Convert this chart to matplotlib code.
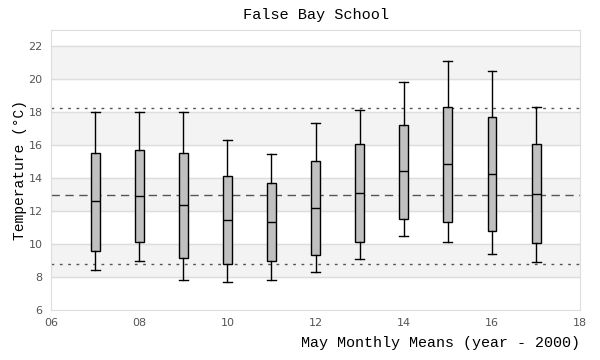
import matplotlib
matplotlib.use("Agg")
from matplotlib import pyplot as plt

# May monthly means, year - 2000
years = [7, 8, 9, 10, 11, 12, 13, 14, 15, 16, 17]
whislo = [8.42, 8.97, 7.82, 7.68, 7.80, 8.28, 9.07, 10.47, 10.10, 9.37, 8.89]
q1 = [9.58, 10.12, 9.13, 8.77, 8.95, 9.31, 10.12, 11.50, 11.31, 10.77, 10.04]
med = [12.59, 12.91, 12.34, 11.43, 11.31, 12.16, 13.07, 14.40, 14.83, 14.22, 13.01]
q3 = [15.53, 15.68, 15.53, 14.14, 13.72, 15.05, 16.08, 17.23, 18.34, 17.73, 16.04]
whishi = [17.98, 18.0, 18.0, 16.28, 15.43, 17.37, 18.16, 19.86, 21.13, 20.53, 18.34]

mean_all = 12.95
upper_lim = 18.28
lower_lim = 8.77

stats = []
for i in range(len(years)):
    stats.append(dict(whislo=whislo[i], q1=q1[i], med=med[i], q3=q3[i],
                      whishi=whishi[i], fliers=[]))

mono = 'Liberation Mono'
fig = plt.figure(figsize=(6, 3.6), dpi=100)
ax = fig.add_axes([0.085, 0.14, 0.882, 0.777])

# alternating bands
for lo in range(8, 23, 4):
    ax.axhspan(lo, lo + 2, color='#f3f3f3', zorder=0)
for y in range(8, 23, 2):
    ax.axhline(y, color='#dddddd', lw=1, zorder=1)

ax.axhline(upper_lim, color='#555555', ls=(0, (2, 4)), lw=1, zorder=2)
ax.axhline(lower_lim, color='#555555', ls=(0, (2, 4)), lw=1, zorder=2)
ax.axhline(mean_all, color='#555555', ls=(0, (6, 4)), lw=1, zorder=2)

lw = 1.0
ax.bxp(stats, positions=years, widths=0.2, patch_artist=True, showfliers=False,
       boxprops=dict(facecolor='#c0c0c0', edgecolor='black', lw=lw),
       medianprops=dict(color='black', lw=lw),
       whiskerprops=dict(color='black', lw=lw),
       capprops=dict(color='black', lw=lw), capwidths=0.2,
       zorder=3)

ax.set_xlim(6, 18)
ax.set_ylim(6, 23)
ax.set_xticks(range(6, 19, 2))
ax.set_xticklabels(['%02d' % v for v in range(6, 19, 2)])
ax.set_yticks(range(6, 23, 2))
ax.tick_params(length=0, labelsize=8, labelcolor='#555555', pad=6)
for s in ax.spines.values():
    s.set_color('#dddddd')

ax.set_title('False Bay School', family=mono, fontsize=11, pad=8)
ax.set_ylabel('Temperature (°C)', family=mono, fontsize=10.5, labelpad=1)
ax.set_xlabel('May Monthly Means (year - 2000)', family=mono, fontsize=10.8,
              loc='right', labelpad=6)

fig.savefig('out.png', dpi=100)
